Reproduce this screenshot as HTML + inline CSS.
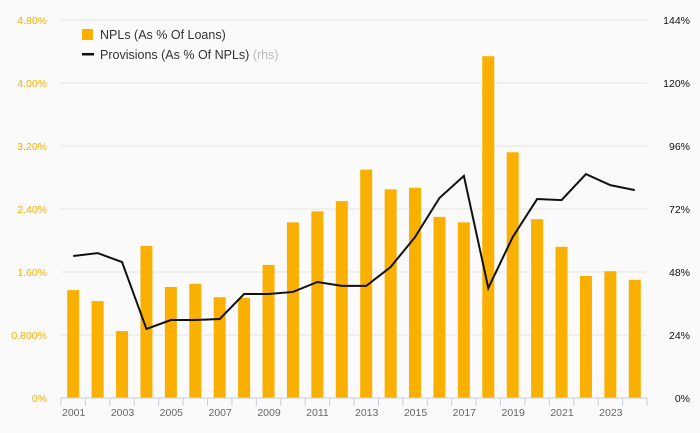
<!DOCTYPE html>
<html><head><meta charset="utf-8"><style>
body{margin:0;background:#fafafa;}
svg{display:block;font-family:"Liberation Sans",sans-serif;}
</style></head><body>
<svg id="chart" width="700" height="433">
<rect width="700" height="433" fill="#fafafa"/>
<g id="grid"></g><g id="bars"></g><g id="line"></g><g id="axes"></g>
<g>
<rect x="82" y="29" width="11" height="11" fill="#f9b000"/>
<text x="100" y="39" font-size="12.5" fill="#333">NPLs (As % Of Loans)</text>
<rect x="82" y="53" width="12" height="2.5" fill="#111"/>
<text x="100" y="59" font-size="12.5" fill="#333">Provisions (As % Of NPLs) <tspan fill="#bbb">(rhs)</tspan></text>
</g>
</svg>
<script>
const years=[2001,2002,2003,2004,2005,2006,2007,2008,2009,2010,2011,2012,2013,2014,2015,2016,2017,2018,2019,2020,2021,2022,2023,2024];
const npl=[1.37,1.23,0.85,1.93,1.41,1.45,1.28,1.27,1.69,2.23,2.37,2.50,2.90,2.65,2.67,2.30,2.23,4.34,3.12,2.27,1.92,1.55,1.61,1.50];
const prov=[54.1,55.2,51.8,26.3,29.7,29.7,30.1,39.6,39.6,40.4,44.2,42.7,42.7,49.9,61.3,76.2,84.6,41.9,61.3,75.8,75.4,85.3,81.1,79.2];
const leftTicks=["0%","0.800%","1.60%","2.40%","3.20%","4.00%","4.80%"];
const rightTicks=["0%","24%","48%","72%","96%","120%","144%"];
const NS="http://www.w3.org/2000/svg";
const x0=61,x1=647,y0=398,y1=20;
const band=(x1-x0)/years.length;
const xc=i=>x0+band*(i+0.5);
const yL=v=>y0-(v/4.8)*(y0-y1);
const yR=v=>y0-(v/144)*(y0-y1);
function mk(t,a,p){const e=document.createElementNS(NS,t);for(const k in a)e.setAttribute(k,a[k]);p.appendChild(e);return e;}
const grid=document.getElementById('grid'),bars=document.getElementById('bars'),line=document.getElementById('line'),axes=document.getElementById('axes');
leftTicks.forEach((t,i)=>{
 const y=y0-i*(y0-y1)/6;
 if(i>0){const g=mk('line',{x1:x0,x2:x1,y1:y,y2:y,stroke:'#e4e4e4','stroke-width':1},grid);
 
 }
 const l=mk('text',{x:47,y:y+4,'text-anchor':'end','font-size':10.5,fill:'#f9b000'},axes);l.textContent=t;
 
 
 const r=mk('text',{x:690,y:y+4,'text-anchor':'end','font-size':10.5,fill:'#111'},axes);r.textContent=rightTicks[i];
 
 
});
npl.forEach((v,i)=>{
 const b=mk('rect',{x:xc(i)-6,y:yL(v),width:12,height:y0-yL(v),fill:'#f9b000'},bars);
 
 
});
const pl=mk('polyline',{points:prov.map((v,i)=>xc(i)+','+yR(v)).join(' '),fill:'none',stroke:'#111','stroke-width':2},line);


const ax=mk('line',{x1:x0,x2:x1,y1:y0,y2:y0,stroke:'#c5d0e0','stroke-width':1},axes);


for(let i=0;i<=years.length;i++){
 const x=x0+band*i;
 const t=mk('line',{x1:x,x2:x,y1:y0,y2:y0+8,stroke:'#c5d0e0','stroke-width':1},axes);
 
 
}
years.forEach((yr,i)=>{
 if(i%2)return;
 const l=mk('text',{x:x0+band*i+1,y:y0+18,'font-size':10.5,fill:'#666'},axes);l.textContent=yr;
 
 
});
</script>
</body></html>
